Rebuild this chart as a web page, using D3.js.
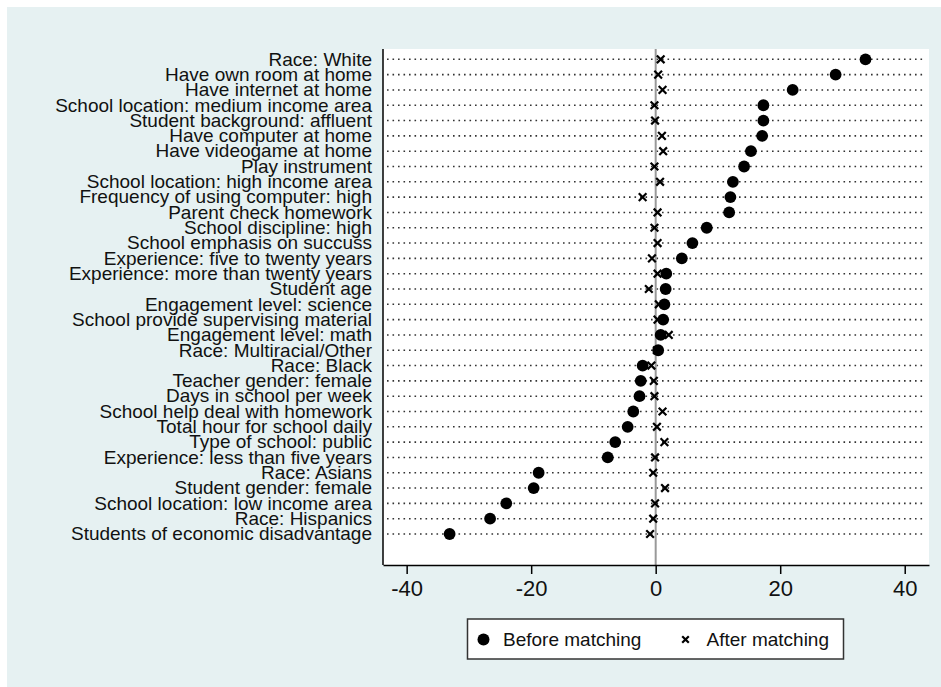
<!DOCTYPE html>
<meta charset="utf-8">
<script src="https://cdn.jsdelivr.net/npm/d3@7"></script>
<style>

body {
  margin: 0;
  background: #fff;
  font-family: "Liberation Sans", Arial, sans-serif;
}

.label {
  font-size: 19px;
  fill: #111;
}

.axis text {
  font-size: 22px;
  fill: #111;
}

</style>
<body>
<script>

  // Covariates, top to bottom.
  var covariates = [
    "Race: White",
    "Have own room at home",
    "Have internet at home",
    "School location: medium income area",
    "Student background: affluent",
    "Have computer at home",
    "Have videogame at home",
    "Play instrument",
    "School location: high income area",
    "Frequency of using computer: high",
    "Parent check homework",
    "School discipline: high",
    "School emphasis on succuss",
    "Experience: five to twenty years",
    "Experience: more than twenty years",
    "Student age",
    "Engagement level: science",
    "School provide supervising material",
    "Engagement level: math",
    "Race: Multiracial/Other",
    "Race: Black",
    "Teacher gender: female",
    "Days in school per week",
    "School help deal with homework",
    "Total hour for school daily",
    "Type of school: public",
    "Experience: less than five years",
    "Race: Asians",
    "Student gender: female",
    "School location: low income area",
    "Race: Hispanics",
    "Students of economic disadvantage"
  ];

  // Standardized bias before and after matching.
  var beforeMatching = [33.7, 28.9, 22.0, 17.3, 17.3, 17.1, 15.3, 14.2, 12.4, 12.0, 11.8, 8.2,
                        5.9, 4.2, 1.7, 1.6, 1.4, 1.2, 0.8, 0.4, -2.1, -2.4, -2.6, -3.6,
                        -4.5, -6.5, -7.7, -18.8, -19.6, -24.0, -26.6, -33.1];
  var afterMatching = [0.8, 0.4, 1.1, -0.2, -0.1, 1.0, 1.2, -0.2, 0.7, -2.1, 0.3, -0.2,
                       0.3, -0.6, 0.3, -1.1, 0.5, 0.3, 2.1, 0.2, -0.7, -0.3, -0.2, 1.1,
                       0.2, 1.4, -0.1, -0.4, 1.5, -0.1, -0.4, -0.9];

  var xTicks = [-40, -20, 0, 20, 40];
  var legendItems = ["Before matching", "After matching"];

  var W = 941, H = 687;
  var plot = {left: 383, right: 929, top: 49, bottom: 565};

  var svg = d3.select("body").append("svg")
    .attr("width", W)
    .attr("height", H);

  // graph region
  svg.append("rect")
    .attr("x", 7).attr("y", 7)
    .attr("width", W - 7).attr("height", H - 7)
    .attr("fill", "#e6f1f2");

  svg.append("rect")
    .attr("x", plot.left).attr("y", plot.top)
    .attr("width", plot.right - plot.left)
    .attr("height", plot.bottom - plot.top)
    .attr("fill", "#fff");

  var data = covariates.map(function(c, i) {
    return {name: c, before: beforeMatching[i], after: afterMatching[i]};
  });

  var x = d3.scaleLinear()
    .domain([-43.8, 43.9])
    .range([plot.left, plot.right]);

  var y = d3.scalePoint()
    .domain(covariates)
    .range([59.3, 534]);

  // dotted guide lines
  svg.selectAll(".guide")
    .data(data)
    .enter().append("line")
    .attr("class", "guide")
    .attr("x1", plot.left + 4)
    .attr("x2", plot.right - 5)
    .attr("y1", function(d) { return y(d.name); })
    .attr("y2", function(d) { return y(d.name); })
    .attr("stroke", "#333")
    .attr("stroke-width", 1.6)
    .attr("stroke-dasharray", "1.6 3.9");

  // zero line
  svg.append("line")
    .attr("x1", x(0)).attr("x2", x(0))
    .attr("y1", plot.top).attr("y2", plot.bottom)
    .attr("stroke", "#999")
    .attr("stroke-width", 2);

  // row labels
  svg.selectAll(".label")
    .data(data)
    .enter().append("text")
    .attr("class", "label")
    .attr("x", plot.left - 11)
    .attr("y", function(d) { return y(d.name); })
    .attr("dy", "0.33em")
    .attr("text-anchor", "end")
    .text(function(d) { return d.name; });

  var cross = d3.symbol().type(d3.symbolX).size(40);

  // after matching
  svg.selectAll(".after")
    .data(data)
    .enter().append("path")
    .attr("class", "after")
    .attr("d", cross)
    .attr("transform", function(d) { return "translate(" + x(d.after) + "," + y(d.name) + ")"; })
    .attr("fill", "none")
    .attr("stroke", "#000")
    .attr("stroke-width", 2.2);

  // before matching
  svg.selectAll(".before")
    .data(data)
    .enter().append("circle")
    .attr("class", "before")
    .attr("cx", function(d) { return x(d.before); })
    .attr("cy", function(d) { return y(d.name); })
    .attr("r", 5.9)
    .attr("fill", "#000");

  // left axis line
  svg.append("line")
    .attr("x1", plot.left).attr("x2", plot.left)
    .attr("y1", plot.top).attr("y2", plot.bottom)
    .attr("stroke", "#000")
    .attr("stroke-width", 1.5);

  // x axis
  var xAxis = d3.axisBottom(x)
    .tickValues(xTicks)
    .tickFormat(function(d) { return String(d); })
    .tickSize(9)
    .tickPadding(6)
    .tickSizeOuter(0);

  var gx = svg.append("g")
    .attr("class", "axis")
    .attr("transform", "translate(0," + plot.bottom + ")")
    .call(xAxis);

  gx.select(".domain")
    .attr("stroke", "#000")
    .attr("stroke-width", 1.5);
  gx.selectAll(".tick line")
    .attr("stroke", "#000")
    .attr("stroke-width", 1.5);
  gx.selectAll("text")
    .attr("font-family", "'Liberation Sans', Arial, sans-serif")
    .attr("font-size", "22px")
    .attr("fill", "#111");

  // legend
  var legend = svg.append("g").attr("class", "legend");

  legend.append("rect")
    .attr("x", 467.5).attr("y", 619)
    .attr("width", 376).attr("height", 40)
    .attr("fill", "#fff")
    .attr("stroke", "#333")
    .attr("stroke-width", 1.5);

  legend.append("circle")
    .attr("cx", 483.5).attr("cy", 639.5)
    .attr("r", 6)
    .attr("fill", "#000");

  legend.append("path")
    .attr("d", d3.symbol().type(d3.symbolX).size(30))
    .attr("transform", "translate(685.5,639.5)")
    .attr("fill", "none")
    .attr("stroke", "#000")
    .attr("stroke-width", 2.2);

  legend.selectAll(".legend-text")
    .data(legendItems)
    .enter().append("text")
    .attr("class", "legend-text")
    .attr("x", function(d, i) { return i == 0 ? 503 : 706.5; })
    .attr("y", 639.5)
    .attr("dy", "0.35em")
    .attr("font-size", "19px")
    .attr("fill", "#111")
    .text(function(d) { return d; });

</script>
</body>
</html>
